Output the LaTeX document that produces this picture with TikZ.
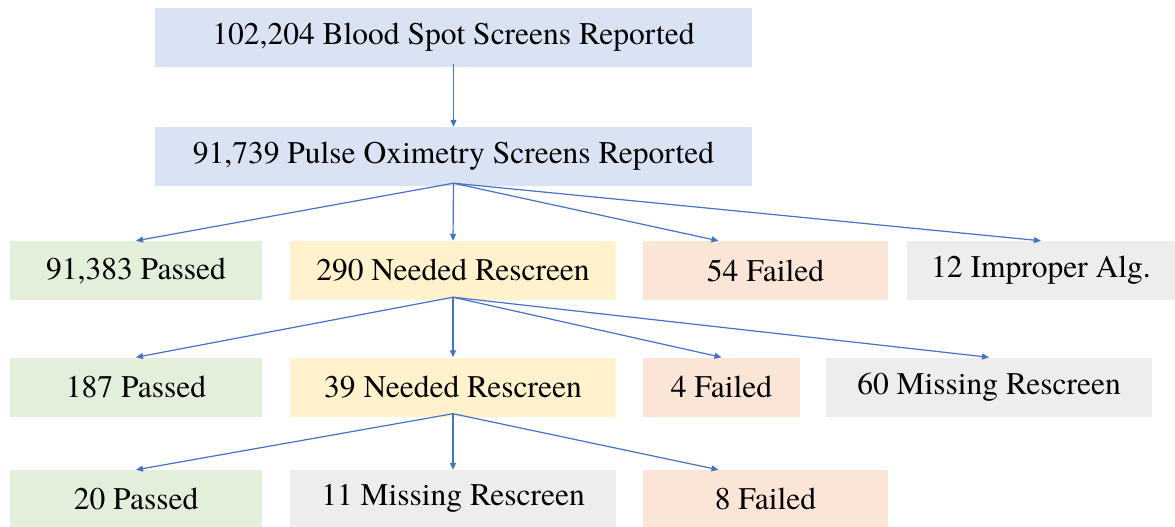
\documentclass[tikz,border=0pt]{standalone}
\usepackage{fontspec}
\setmainfont{texgyretermes-regular.otf}
\usetikzlibrary{arrows.meta}
\definecolor{topF}{HTML}{DAE3F3}
\definecolor{passF}{HTML}{E2EFDA}
\definecolor{reF}{HTML}{FFF2CC}
\definecolor{failF}{HTML}{FBE5D6}
\definecolor{missF}{HTML}{EDEDED}
\definecolor{linkC}{HTML}{4472C4}
\begin{document}
\begin{tikzpicture}[x=1pt,y=-1pt,
    box/.style={inner sep=0pt,minimum height=59pt,font=\fontsize{31.5}{36}\selectfont},
    link/.style={-{Triangle[length=7pt,width=6pt]},linkC,line width=1.2pt}]
  \useasboundingbox (0,0) rectangle (1175,527);
  % screens reported
  \node[box,fill=topF,minimum width=597pt] (bs) at (453.5,37.5) {102,204 Blood Spot Screens Reported};
  \node[box,fill=topF,minimum width=597pt] (po) at (453.5,156.5) {91,739 Pulse Oximetry Screens Reported};
  % first screen
  \foreach \nm/\cx/\bw/\fc/\txt in {p1/136/252/passF/{91,383 Passed},r1/453/326/reF/{290 Needed Rescreen},
      f1/765.5/245/failF/{54 Failed},m1/1041/268/missF/{12 Improper Alg.}}
    \node[box,fill=\fc,minimum width=\bw pt] (\nm) at (\cx,270.5) {\txt};
  % second screen
  \foreach \nm/\cx/\bw/\fc/\txt in {p2/136/252/passF/{187 Passed},r2/453/326/reF/{39 Needed Rescreen},
      f2/721.5/157/failF/{4 Failed},m2/989/326/missF/{60 Missing Rescreen}}
    \node[box,fill=\fc,minimum width=\bw pt] (\nm) at (\cx,387) {\txt};
  % third screen
  \foreach \nm/\cx/\bw/\fc/\txt in {p3/136/252/passF/{20 Passed},m3/453/326/missF/{11 Missing Rescreen},
      f3/765.5/245/failF/{8 Failed}}
    \node[box,fill=\fc,minimum width=\bw pt,minimum height=57pt] (\nm) at (\cx,498.5) {\txt};
  \draw[link] ([yshift=3pt]bs.south) -- (po.north);
  \foreach \to in {p1,r1,m1}
    \draw[link] ([yshift=3pt]po.south) -- (\to.north);
  \draw[link] ([yshift=3pt]po.south) -- ([xshift=-47pt]f1.north);
  \foreach \to in {p2,r2,f2,m2}
    \draw[link] ([yshift=3pt]r1.south) -- (\to.north);
  \foreach \to in {p3,m3}
    \draw[link] ([yshift=3pt]r2.south) -- (\to.north);
  \draw[link] ([yshift=3pt]r2.south) -- ([xshift=-47pt]f3.north);
\end{tikzpicture}
\end{document}
